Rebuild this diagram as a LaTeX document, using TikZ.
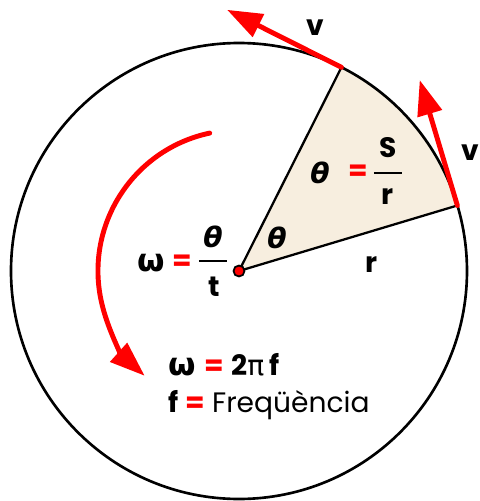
\documentclass[tikz,border=0pt]{standalone}
\usepackage{fontspec}
\setmainfont{Poppins}
\newfontfamily\greekfont{DejaVu Sans}
\usetikzlibrary{arrows.meta, calc}
\definecolor{vel-red}{HTML}{FF0000}
\definecolor{sector-fill}{HTML}{F7EEDF}

\begin{document}
\begin{tikzpicture}[x=0.02cm, y=0.02cm,
    every node/.style={font=\fontsize{16}{19}\selectfont\bfseries, inner sep=0pt},
    redarrow/.style={vel-red, line width=2.8pt, line cap=round,
      -{Triangle[length=20pt, width=14pt]}},
    eqsign/.style={text=vel-red}]
  \useasboundingbox (-239,-230) rectangle (241,271);
  \coordinate (O) at (0,0);
  \coordinate (A) at (16.7:228);
  \coordinate (B) at (63.3:228);
  % sector
  \fill[sector-fill] (O) -- (A) arc[start angle=16.7, end angle=63.3, radius=228] -- cycle;
  \draw[line width=1.3pt] (A) -- (O) -- (B);
  \draw[line width=1.5pt] (O) circle[radius=228];
  % velocities
  \coordinate (vA) at ($(A)+(106.7:131)$);
  \coordinate (vB) at ($(B)+(153.3:128)$);
  \draw[redarrow] (A) -- (vA);
  \draw[redarrow] (B) -- (vB);
  \draw[redarrow] (102:141) arc[start angle=102, end angle=228, radius=141];
  \filldraw[fill=vel-red, draw=black, line width=1pt] (O) circle[radius=5.5];
  % labels
  \node (v1) at (76,243) {v};
  \node (v2) at (231,118) {v};
  \node (thS) at (81,98) {\greekfont\itshape θ};
  \node[eqsign] (eqS) at (119,98) {=};
  \node (S) at (149,123) {S};
  \node (r1) at (149,74) {r};
  \draw[line width=1.3pt] (135,98) -- (163,98);
  \node (thC) at (38,33) {\greekfont\itshape θ};
  \node (rlab) at (133,6) {r};
  \node (om) at (-88,8) {\greekfont\fontsize{18}{20}\selectfont ω};
  \node[eqsign] (eqW) at (-57,8) {=};
  \node (thW) at (-26,34) {\greekfont\itshape θ};
  \node (t) at (-25,-16) {t};
  \draw[line width=1.3pt] (-40,10) -- (-12,10);
  \node[anchor=base west] (f1) at (-71,-104)
    {{\greekfont\fontsize{18}{20}\selectfont ω}\hspace{5pt}\textcolor{vel-red}{=}\hspace{4pt}2{\greekfont\mdseries π}\hspace{3pt}f};
  \node[anchor=base west] (f2) at (-71,-141)
    {f\hspace{4pt}\textcolor{vel-red}{=}\hspace{4pt}\mdseries Freqüència};
\end{tikzpicture}
\end{document}
